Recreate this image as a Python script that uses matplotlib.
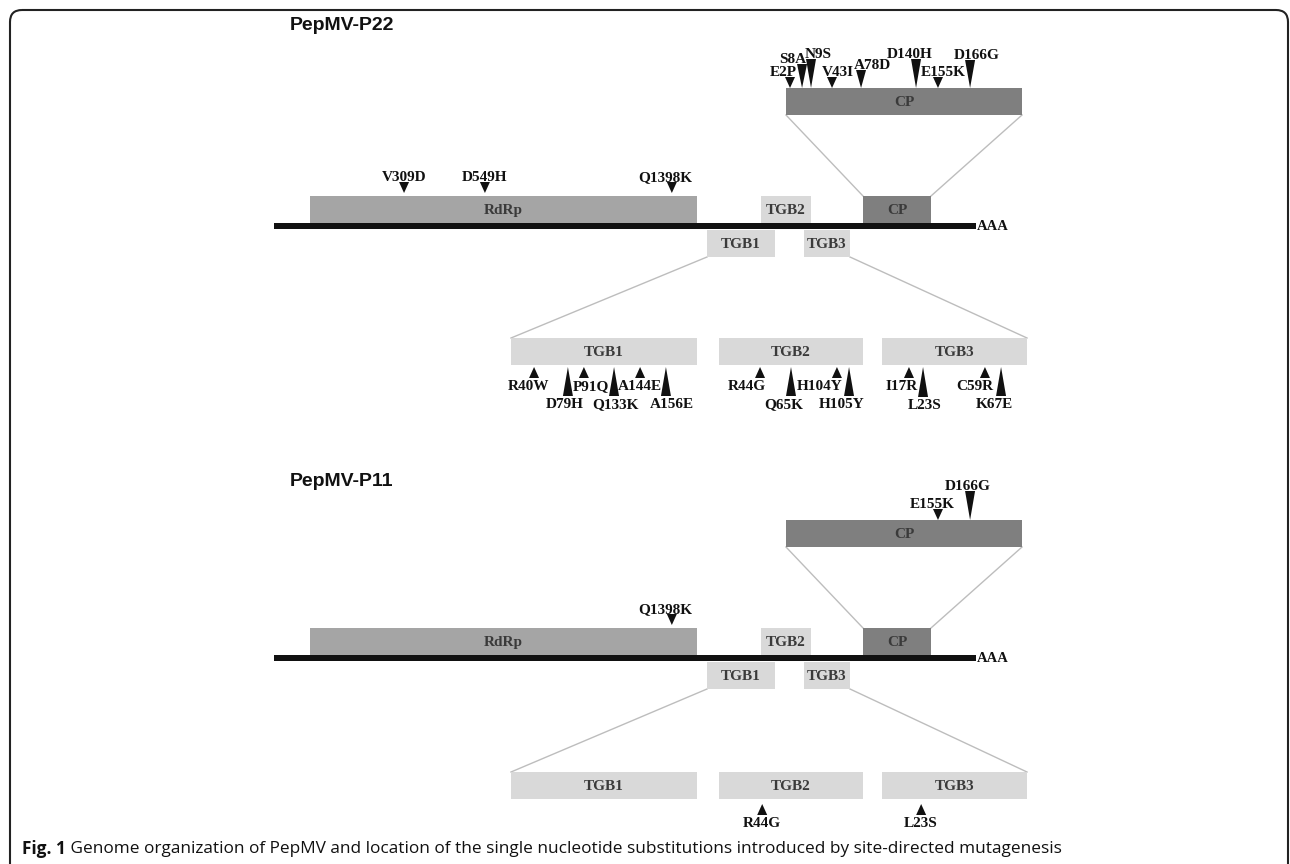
import matplotlib
matplotlib.use("Agg")
import matplotlib.pyplot as plt
from matplotlib.patches import Rectangle, Polygon, FancyBboxPatch

# ---- data ----
panel_titles = ["PepMV-P22", "PepMV-P11"]
genome_genes = ["RdRp", "TGB2", "CP", "TGB1", "TGB3"]
detail_genes = ["CP", "TGB1", "TGB2", "TGB3"]

# substitutions: label + relative position along the protein box (0..1)
p22_rdrp_muts = ["V309D", "D549H", "Q1398K"]
p22_rdrp_pos = [0.243, 0.452, 0.935]
p22_cp_muts = ["E2P", "S8A", "N9S", "V43I", "A78D", "D140H", "E155K", "D166G"]
p22_cp_pos = [0.017, 0.068, 0.106, 0.195, 0.318, 0.551, 0.644, 0.780]
p22_tgb1_muts = ["R40W", "D79H", "P91Q", "Q133K", "A144E", "A156E"]
p22_tgb1_pos = [0.124, 0.306, 0.392, 0.554, 0.694, 0.833]
p22_tgb2_muts = ["R44G", "Q65K", "H104Y", "H105Y"]
p22_tgb2_pos = [0.285, 0.500, 0.819, 0.903]
p22_tgb3_muts = ["I17R", "L23S", "C59R", "K67E"]
p22_tgb3_pos = [0.186, 0.283, 0.710, 0.821]

p11_rdrp_muts = ["Q1398K"]
p11_rdrp_pos = [0.935]
p11_cp_muts = ["E155K", "D166G"]
p11_cp_pos = [0.644, 0.780]
p11_tgb1_muts = []
p11_tgb1_pos = []
p11_tgb2_muts = ["R44G"]
p11_tgb2_pos = [0.30]
p11_tgb3_muts = ["L23S"]
p11_tgb3_pos = [0.27]

caption_bold = "Fig. 1"
caption_text = (" Genome organization of PepMV and location of the single nucleotide "
                "substitutions introduced by site-directed mutagenesis")

# ---- layout (pixel space) ----
W, H = 1290, 864
PANEL_DY = [0, 432]
DETAIL_DY = [0, 434]      # lower expanded TGB row sits a little lower in panel 2
TIP_GAP = [2, 5]
TITLE_Y = [25, 481]
GENE_COLOR = {"RdRp": "#a5a5a5", "CP": "#7f7f7f",
              "TGB1": "#d9d9d9", "TGB2": "#d9d9d9", "TGB3": "#d9d9d9"}
BOX_H = 27
LINE_X = (274, 976)
LINE_Y = (223, 229)
genome_span = {"RdRp": (310, 697, 196), "TGB2": (761, 811, 196), "CP": (863, 931, 196),
               "TGB1": (707, 775, 230), "TGB3": (804, 850, 230)}
detail_span = {"CP": (786, 1022, 88), "TGB1": (511, 697, 338),
               "TGB2": (719, 863, 338), "TGB3": (882, 1027, 338)}
# marker heights (px) for the long triangles; all others are short
tall_p22 = {"S8A": 24, "N9S": 29, "A78D": 18, "D140H": 29, "D166G": 28,
            "D79H": 29, "Q133K": 29, "A156E": 29, "Q65K": 29, "H105Y": 29,
            "L23S": 30, "K67E": 29}
tall_p11 = {"D166G": 29}
nudge_p22 = {"E2P": -7, "S8A": -9, "N9S": 7, "V43I": 6, "A78D": 11, "D140H": -6,
             "E155K": 5, "D166G": 7, "Q1398K": -7,
             "R40W": -6, "D79H": -3, "P91Q": 7, "Q133K": 1, "A156E": 6,
             "R44G": -13, "Q65K": -7, "H104Y": -17, "H105Y": -7,
             "I17R": -7, "L23S": 2, "C59R": -10, "K67E": -7}
nudge_p11 = {"Q1398K": -7, "E155K": -6, "D166G": -2, "R44G": 0, "L23S": 0}

SERIF = "Liberation Serif"
MUT_FS = 11

fig = plt.figure(figsize=(W / 100, H / 100), dpi=100)
ax = fig.add_axes([0, 0, 1, 1])
ax.set_xlim(0, W)
ax.set_ylim(H, 0)
ax.axis("off")


def marker(x, y_tip, lab, point_down, tall, nudge):
    h = tall.get(lab, 11)
    w = 10
    base = y_tip - h if point_down else y_tip + h
    ax.add_patch(Polygon([(x - w / 2, base), (x + w / 2, base), (x, y_tip)],
                         closed=True, fc="#111111", ec="none", zorder=4))
    dx = nudge.get(lab, 0)
    if point_down:
        ax.text(x + dx, base + 2, lab, ha="center", va="bottom", fontsize=MUT_FS,
                fontweight="bold", family=SERIF, color="#111111", zorder=5)
    else:
        ax.text(x + dx, base + 2, lab, ha="center", va="top", fontsize=MUT_FS,
                fontweight="bold", family=SERIF, color="#111111", zorder=5)


def box(x0, x1, y0, gene):
    ax.add_patch(Rectangle((x0, y0), x1 - x0, BOX_H, fc=GENE_COLOR[gene],
                           ec="none", zorder=2))
    ax.text((x0 + x1) / 2, y0 + BOX_H / 2 + 1, gene, ha="center", va="center",
            fontsize=11, fontweight="bold", family=SERIF, color="#3a3a3a", zorder=3)


def draw_panel(k, title, muts):
    dy = PANEL_DY[k]
    ddy = DETAIL_DY[k]
    tall = tall_p11 if k == 1 else tall_p22
    nudge = nudge_p11 if k == 1 else nudge_p22
    ax.text(290, TITLE_Y[k], title, ha="left", va="center", fontsize=14,
            fontweight="bold", family="Liberation Sans", color="#111111")
    # genome line
    ax.add_patch(Rectangle((LINE_X[0], LINE_Y[0] + dy), LINE_X[1] - LINE_X[0],
                           LINE_Y[1] - LINE_Y[0], fc="#111111", ec="none", zorder=3))
    ax.text(LINE_X[1] + 1, (LINE_Y[0] + LINE_Y[1]) / 2 + dy, "AAA", ha="left",
            va="center", fontsize=10.5, fontweight="bold", family=SERIF, color="#111111")
    for g in genome_genes:
        x0, x1, y0 = genome_span[g]
        box(x0, x1, y0 + dy, g)
    for g in detail_genes:
        x0, x1, y0 = detail_span[g]
        box(x0, x1, y0 + (dy if g == "CP" else ddy), g)
    # zoom connector lines
    lc = dict(color="#bdbdbd", lw=1.0, zorder=1)
    cx0, cx1, cy = genome_span["CP"]
    dx0, dx1, dyy = detail_span["CP"]
    ax.plot([dx0, cx0], [dyy + BOX_H + dy, cy + dy], **lc)
    ax.plot([dx1, cx1], [dyy + BOX_H + dy, cy + dy], **lc)
    t1 = genome_span["TGB1"]
    t3 = genome_span["TGB3"]
    ax.plot([t1[0], detail_span["TGB1"][0]], [t1[2] + BOX_H + dy, detail_span["TGB1"][2] + ddy], **lc)
    ax.plot([t3[1], detail_span["TGB3"][1]], [t3[2] + BOX_H + dy, detail_span["TGB3"][2] + ddy], **lc)
    # substitutions
    for gene, (labs, pos) in muts.items():
        if gene == "RdRp":
            x0, x1, y0 = genome_span["RdRp"]
            tip, down = y0 - 3 + dy, True
        elif gene == "CP":
            x0, x1, y0 = detail_span["CP"]
            tip, down = y0 + dy, True
        else:
            x0, x1, y0 = detail_span[gene]
            tip, down = y0 + BOX_H + TIP_GAP[k] + ddy, False
        for lab, p in zip(labs, pos):
            marker(x0 + p * (x1 - x0), tip, lab, down, tall, nudge)


draw_panel(0, panel_titles[0], {"RdRp": (p22_rdrp_muts, p22_rdrp_pos),
                                "CP": (p22_cp_muts, p22_cp_pos),
                                "TGB1": (p22_tgb1_muts, p22_tgb1_pos),
                                "TGB2": (p22_tgb2_muts, p22_tgb2_pos),
                                "TGB3": (p22_tgb3_muts, p22_tgb3_pos)})
draw_panel(1, panel_titles[1], {"RdRp": (p11_rdrp_muts, p11_rdrp_pos),
                                "CP": (p11_cp_muts, p11_cp_pos),
                                "TGB1": (p11_tgb1_muts, p11_tgb1_pos),
                                "TGB2": (p11_tgb2_muts, p11_tgb2_pos),
                                "TGB3": (p11_tgb3_muts, p11_tgb3_pos)})

# rounded frame, open at the bottom
ax.add_patch(FancyBboxPatch((10, 10), 1278, 950, boxstyle="round,pad=0,rounding_size=12",
                            fc="none", ec="#222222", lw=1.5, zorder=6))

# caption
t = ax.text(22, 849, caption_bold, ha="left", va="center", fontsize=12.4,
            fontweight="bold", family="Open Sans", color="#111111")
fig.canvas.draw()
bb = t.get_window_extent()
inv = ax.transData.inverted()
x_end = inv.transform((bb.x1, bb.y0))[0]
ax.text(x_end, 849, caption_text, ha="left", va="center", fontsize=12.4,
        family="Open Sans", color="#111111")

fig.savefig("out.png", dpi=100)
